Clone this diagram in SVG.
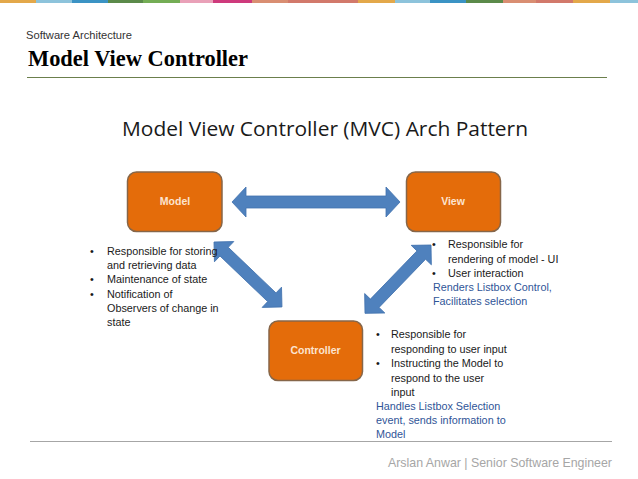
<svg xmlns="http://www.w3.org/2000/svg" width="638" height="479" viewBox="0 0 638 479">
<style>
.hdr{font-family:"Liberation Sans",Arial,sans-serif;fill:#333}
.ttl{font-family:"Liberation Serif","Times New Roman",serif;font-weight:bold;fill:#000}
.cal{font-family:"Liberation Sans",Arial,sans-serif;font-size:10.8px;fill:#1a1a1a}
.blue{fill:#2F5597}
.box{fill:#E46C0A;stroke:#866649;stroke-width:1.5}
.lbl{font-family:"Liberation Sans",Arial,sans-serif;font-size:10.5px;font-weight:bold;fill:#FCE4D0;text-anchor:middle}
.arr{fill:#4F81BD;stroke:#4272AE;stroke-width:0.8}
.foot{font-family:"Liberation Sans",Arial,sans-serif;font-size:13px;fill:#A6A6A6}
</style>
<defs>
<path id="dbl" d="M0,0 L14,-15 L14,-6 L-14,-6 Z"/>
</defs>
<rect width="638" height="479" fill="#fff"/>
<g id="topbar">
<rect x="0" y="0" width="36" height="3" fill="#E3A84A"/>
<rect x="36" y="0" width="36" height="3" fill="#8DC3DB"/>
<rect x="72" y="0" width="36" height="3" fill="#3B93C4"/>
<rect x="108" y="0" width="35" height="3" fill="#5B8A4A"/>
<rect x="143" y="0" width="37" height="3" fill="#74AD55"/>
<rect x="180" y="0" width="33" height="3" fill="#E9A1B8"/>
<rect x="213" y="0" width="39" height="3" fill="#CE3A7C"/>
<rect x="252" y="0" width="36" height="3" fill="#D98E72"/>
<rect x="288" y="0" width="70" height="3" fill="#D2796B"/>
<rect x="358" y="0" width="37" height="3" fill="#E3A84A"/>
<rect x="395" y="0" width="35" height="3" fill="#8DC3DB"/>
<rect x="430" y="0" width="36" height="3" fill="#3B93C4"/>
<rect x="466" y="0" width="37" height="3" fill="#5B8A4A"/>
<rect x="503" y="0" width="33" height="3" fill="#D98E72"/>
<rect x="536" y="0" width="37" height="3" fill="#D2796B"/>
<rect x="573" y="0" width="37" height="3" fill="#E3A84A"/>
<rect x="610" y="0" width="28" height="3" fill="#8DC3DB"/>
</g>
<g id="header">
<text class="hdr" x="26" y="39" font-size="11.5" textLength="106" lengthAdjust="spacingAndGlyphs">Software Architecture</text>
<text class="ttl" x="28" y="66" font-size="23" textLength="220" lengthAdjust="spacingAndGlyphs">Model View Controller</text>
<line x1="27" y1="77.5" x2="607" y2="77.5" stroke="#6B7F4C" stroke-width="1.2"/>
<text x="325" y="136" font-family="'Open Sans','Liberation Sans',Arial,sans-serif" font-size="20" fill="#1a1a1a" text-anchor="middle" textLength="406" lengthAdjust="spacingAndGlyphs">Model View Controller (MVC) Arch Pattern</text>
</g>
<g id="connectors">
<path class="arr" d="M232,202 L246,187 L246,196 L386,196 L386,187 L400,202 L386,217 L386,208 L246,208 L246,217 Z"/>
<path class="arr" transform="translate(214,242) rotate(43.7)" d="M0,0 L14,-14 L14,-6 L80,-6 L80,-14 L94,0 L80,14 L80,6 L14,6 L14,14 Z"/>
<path class="arr" transform="translate(431,245) rotate(134)" d="M0,0 L14,-14 L14,-6 L81,-6 L81,-14 L95,0 L81,14 L81,6 L14,6 L14,14 Z"/>
</g>
<g id="model">
<rect class="box" x="127.5" y="172" width="94.5" height="59.5" rx="9"/>
<text class="lbl" x="175" y="205">Model</text>
<g class="cal">
<text x="90" y="255">•</text><text x="107" y="255">Responsible for storing</text>
<text x="107" y="269">and retrieving data</text>
<text x="90" y="283">•</text><text x="107" y="283">Maintenance of state</text>
<text x="90" y="298">•</text><text x="107" y="298">Notification of</text>
<text x="107" y="312">Observers  of change in</text>
<text x="107" y="326">state</text>
</g>
</g>
<g id="view">
<rect class="box" x="406.5" y="172" width="94" height="59.5" rx="9"/>
<text class="lbl" x="453" y="205">View</text>
<g class="cal">
<text x="432" y="248">•</text><text x="448" y="248">Responsible for</text>
<text x="448" y="263">rendering of model - UI</text>
<text x="432" y="277">•</text><text x="448" y="277">User interaction</text>
<text class="blue" x="433" y="291">Renders Listbox Control,</text>
<text class="blue" x="433" y="305">Facilitates selection</text>
</g>
</g>
<g id="controller">
<rect class="box" x="269" y="321" width="93.5" height="59.5" rx="9"/>
<text class="lbl" x="315.5" y="354">Controller</text>
<g class="cal">
<text x="376" y="338">•</text><text x="391" y="338">Responsible for</text>
<text x="391" y="353">responding to user input</text>
<text x="376" y="367">•</text><text x="391" y="367">Instructing the Model to</text>
<text x="391" y="382">respond to the user</text>
<text x="391" y="396">input</text>
<text class="blue" x="376" y="410">Handles  Listbox Selection</text>
<text class="blue" x="376" y="424">event, sends information to</text>
<text class="blue" x="376" y="438">Model</text>
</g>
</g>
<g id="footer">
<line x1="30" y1="441.5" x2="612" y2="441.5" stroke="#A6A6A6" stroke-width="1"/>
<text class="foot" x="612" y="467" text-anchor="end" textLength="224" lengthAdjust="spacingAndGlyphs">Arslan Anwar | Senior Software Engineer</text>
</g>
</svg>
